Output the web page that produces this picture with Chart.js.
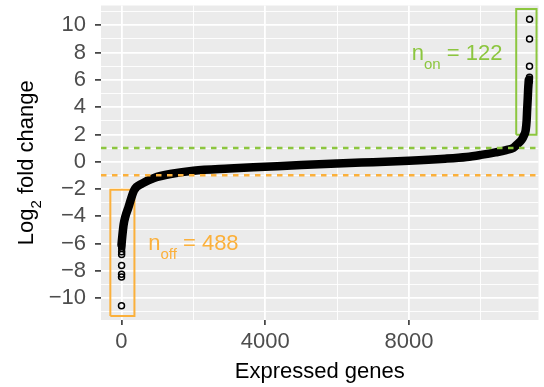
<!DOCTYPE html>
<html>
<head>
<meta charset="utf-8">
<script src="https://cdn.jsdelivr.net/npm/chart.js@4.4.0/dist/chart.umd.min.js"></script>
<style>
  html, body { margin: 0; padding: 0; background: #ffffff; }
</style>
</head>
<body>
<canvas id="fcChart" width="544" height="387"></canvas>
<script>
const FONT = "'Liberation Sans', Arial, Helvetica, sans-serif";
const GREEN = "#8cc63f";
const ORANGE = "#fbb03b";

// sorted log2 fold changes, read along the dense band (gene rank -> value)
const bandRank = [0, 25, 60, 110, 187, 350, 577, 907, 1400, 2000, 3000, 4000, 5000, 6000, 7000, 8000, 9000, 9600, 10000, 10400, 10700, 10900, 11000, 11130, 11200, 11243, 11270, 11284, 11300, 11312, 11330];
const bandLfc  = [-6.1, -5.4, -4.6, -4.0, -3.4, -2.1, -1.6, -1.19, -0.88, -0.66, -0.5, -0.37, -0.24, -0.13, -0.03, 0.07, 0.22, 0.35, 0.5, 0.68, 0.85, 1.02, 1.25, 1.6, 1.95, 2.3, 3.0, 3.8, 4.6, 5.3, 6.0];

// isolated genes at both ends
const lowRank = [0, 1, 2, 3, 4, 5, 6, 7];
const lowLfc  = [-10.55, -8.45, -8.25, -7.6, -6.8, -6.6, -6.35, -6.2];
const highRank = [11352, 11351, 11350, 11349, 11348, 11347];
const highLfc  = [10.45, 9.0, 7.0, 6.2, 6.05, 5.9];

// thresholds and selection boxes
const upCut = 1;
const downCut = -1;
const offBox = { x0: -310, x1: 360, y0: -11.3, y1: -2.05 };
const onBox  = { x0: 10980, x1: 11545, y0: 1.98, y1: 11.2 };

// labels: [main, subscript, rest, x (centre), y (baseline)]
const offLabel = ["n", "off", " = 488", 2000, -6.5];
const onLabel  = ["n", "on", " = 122", 9334, 7.42];

// major (labelled) and minor grid positions
const xMajor = [0, 4000, 8000];
const xMinor = [2000, 6000, 10000];
const yMajor = [-10, -8, -6, -4, -2, 0, 2, 4, 6, 8, 10];
const yMinor = [-11, -9, -7, -5, -3, -1, 1, 3, 5, 7, 9, 11];

function pts(xs, ys) {
  return xs.map((x, i) => ({ x: x, y: ys[i] }));
}

function boxPts(b) {
  return [{ x: b.x0, y: b.y0 }, { x: b.x1, y: b.y0 }, { x: b.x1, y: b.y1 }, { x: b.x0, y: b.y1 }, { x: b.x0, y: b.y0 }];
}

function fmt(v) {
  return v < 0 ? "\u2212" + Math.abs(v) : String(v);
}

function tickList(major, minor) {
  return major.concat(minor).sort((a, b) => a - b).map((v) => ({ value: v }));
}

function drawSubText(ctx, cx, baseline, main, sub, rest, color, size, rotate) {
  const subSize = Math.round(size * 0.7);
  ctx.save();
  ctx.font = size + "px " + FONT;
  const w1 = ctx.measureText(main).width;
  const w3 = ctx.measureText(rest).width;
  ctx.font = subSize + "px " + FONT;
  const w2 = ctx.measureText(sub).width;
  const total = w1 + w2 + w3;
  ctx.translate(cx, baseline);
  if (rotate) ctx.rotate(-Math.PI / 2);
  ctx.fillStyle = color;
  ctx.textAlign = "left";
  ctx.textBaseline = "alphabetic";
  let x = -total / 2;
  ctx.font = size + "px " + FONT;
  ctx.fillText(main, x, 0);
  x += w1;
  ctx.font = subSize + "px " + FONT;
  ctx.fillText(sub, x, size * 0.38);
  x += w2;
  ctx.font = size + "px " + FONT;
  ctx.fillText(rest, x, 0);
  ctx.restore();
}

const decor = {
  id: "decor",
  beforeDraw(chart) {
    const a = chart.chartArea;
    const ctx = chart.ctx;
    ctx.save();
    ctx.fillStyle = "#ebebeb";
    ctx.fillRect(a.left, a.top, a.right - a.left, a.bottom - a.top);
    ctx.restore();
  },
  afterDraw(chart) {
    const ctx = chart.ctx;
    const xs = chart.scales.x, ys = chart.scales.y;
    const a = chart.chartArea;
    [[offLabel, ORANGE], [onLabel, GREEN]].forEach(([l, c]) => {
      drawSubText(ctx, xs.getPixelForValue(l[3]), ys.getPixelForValue(l[4]), l[0], l[1], l[2], c, 22, false);
    });
    // axis titles
    ctx.save();
    ctx.fillStyle = "#000";
    ctx.font = "22px " + FONT;
    ctx.textAlign = "center";
    ctx.textBaseline = "alphabetic";
    ctx.fillText("Expressed genes", (a.left + a.right) / 2, 378);
    ctx.restore();
    drawSubText(ctx, 33, (a.top + a.bottom) / 2, "Log", "2", " fold change", "#000", 22, true);
  }
};

new Chart(document.getElementById("fcChart"), {
  type: "scatter",
  data: {
    datasets: [
      {
        data: [{ x: -570, y: upCut }, { x: 11600, y: upCut }],
        showLine: true, borderColor: GREEN, borderWidth: 2.5, borderDash: [5.5, 5.5], pointRadius: 0
      },
      {
        data: [{ x: -570, y: downCut }, { x: 11600, y: downCut }],
        showLine: true, borderColor: ORANGE, borderWidth: 2.5, borderDash: [5.5, 5.5], pointRadius: 0
      },
      {
        data: pts(lowRank, lowLfc).concat(pts(highRank, highLfc)),
        pointRadius: 3, pointBorderWidth: 1.5, pointBorderColor: "#000",
        pointBackgroundColor: "rgba(0,0,0,0)", pointStyle: "circle"
      },
      {
        data: pts(bandRank, bandLfc),
        showLine: true, borderColor: "#000", borderWidth: 8.5, pointRadius: 0,
        cubicInterpolationMode: "monotone", borderCapStyle: "round", borderJoinStyle: "round"
      },
      {
        data: boxPts(offBox),
        showLine: true, borderColor: ORANGE, borderWidth: 2, pointRadius: 0, tension: 0
      },
      {
        data: boxPts(onBox),
        showLine: true, borderColor: GREEN, borderWidth: 2, pointRadius: 0, tension: 0
      }
    ]
  },
  options: {
    responsive: false,
    animation: false,
    events: [],
    layout: { padding: { top: 5, left: 0, right: 0, bottom: 0 } },
    plugins: {
      legend: { display: false },
      tooltip: { enabled: false },
      title: { display: false }
    },
    scales: {
      x: {
        type: "linear",
        min: -570,
        max: 11600,
        border: { display: false },
        afterBuildTicks: (s) => { s.ticks = tickList(xMajor, xMinor); },
        grid: {
          color: "#ffffff",
          lineWidth: (c) => (c.tick && xMajor.includes(c.tick.value) ? 1.8 : 0.9),
          tickLength: 5,
          tickWidth: 1.6,
          tickColor: (c) => (c.tick && xMajor.includes(c.tick.value) ? "#333333" : "rgba(0,0,0,0)")
        },
        ticks: {
          autoSkip: false,
          maxRotation: 0,
          padding: 4,
          color: "#4d4d4d",
          font: { family: FONT, size: 22 },
          callback: (v) => (xMajor.includes(v) ? String(v) : "")
        },
        afterFit: (s) => { s.height = 67; s.paddingLeft = 0; s.paddingRight = 0; }
      },
      y: {
        type: "linear",
        min: -11.6,
        max: 11.45,
        border: { display: false },
        afterBuildTicks: (s) => { s.ticks = tickList(yMajor, yMinor); },
        grid: {
          color: "#ffffff",
          lineWidth: (c) => (c.tick && yMajor.includes(c.tick.value) ? 1.8 : 0.9),
          tickLength: 6,
          tickWidth: 1.6,
          tickColor: (c) => (c.tick && yMajor.includes(c.tick.value) ? "#333333" : "rgba(0,0,0,0)")
        },
        ticks: {
          autoSkip: false,
          padding: 9,
          color: "#4d4d4d",
          font: { family: FONT, size: 22 },
          callback: (v) => (yMajor.includes(v) ? fmt(v) : "")
        },
        afterFit: (s) => { s.width = 101; s.paddingTop = 0; s.paddingBottom = 0; }
      }
    }
  },
  plugins: [decor]
});
</script>
</body>
</html>
